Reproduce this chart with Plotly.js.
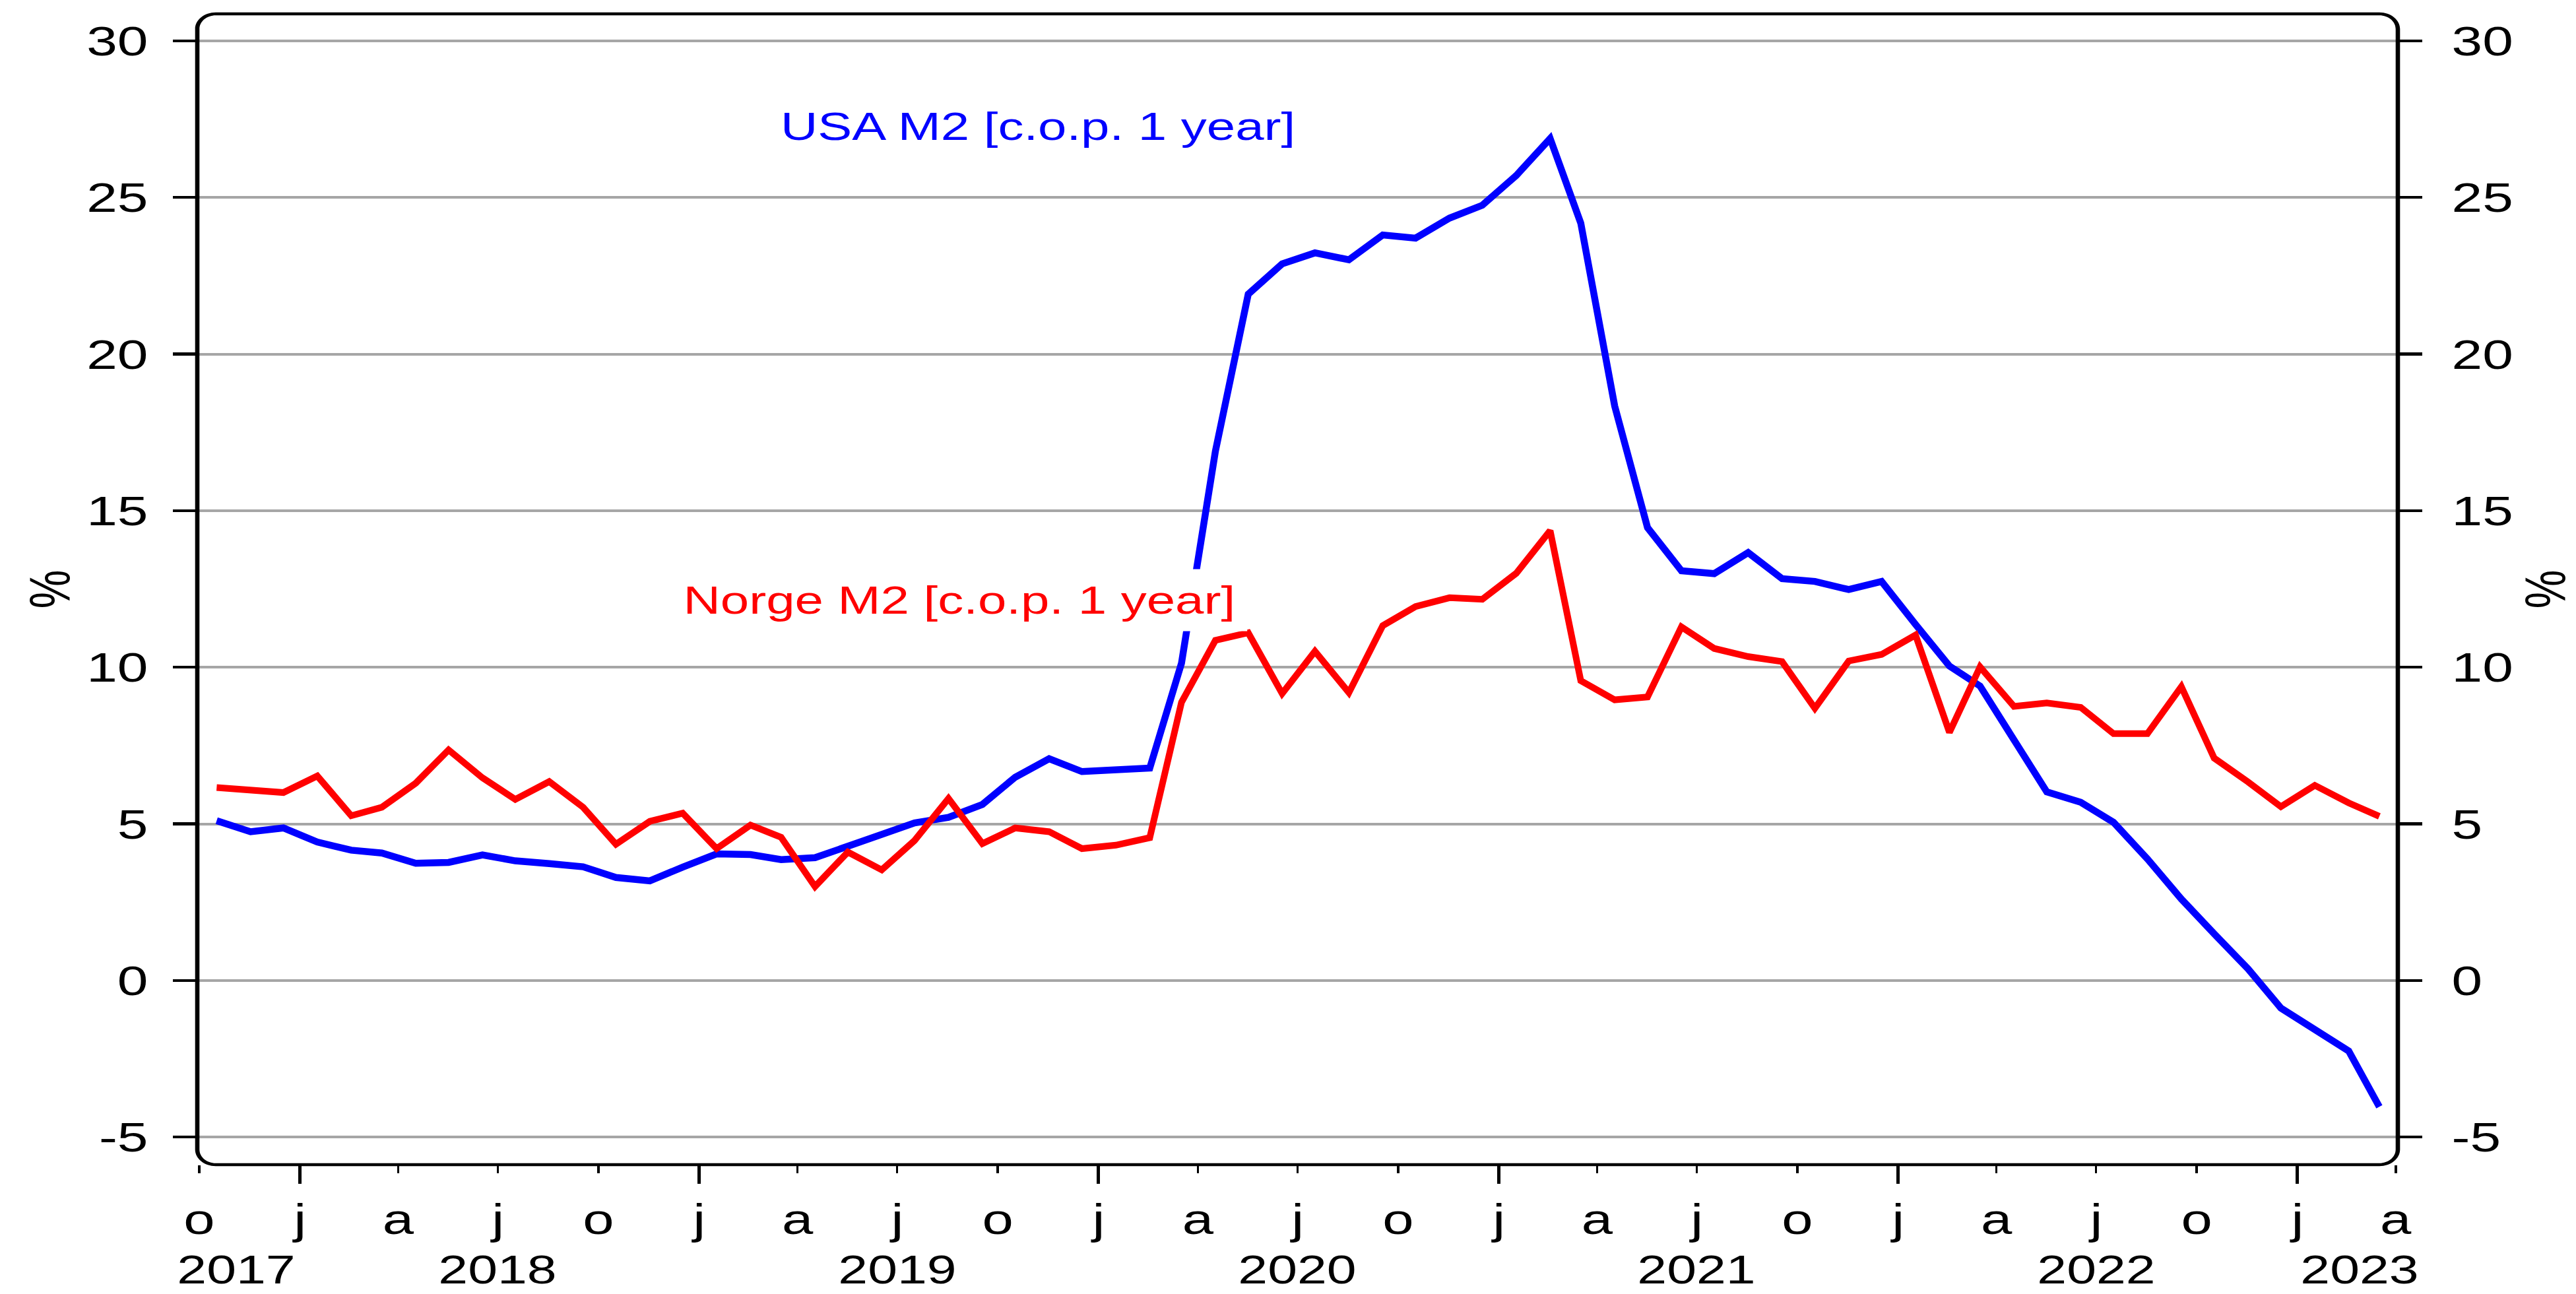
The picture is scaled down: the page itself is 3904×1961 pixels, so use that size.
<!DOCTYPE html>
<html>
<head>
<meta charset="utf-8">
<script src="https://cdn.plot.ly/plotly-3.0.1.min.js"></script>
<style>
html,body{margin:0;padding:0;background:#ffffff;}
#chart{width:3904px;height:1961px;}
</style>
</head>
<body>
<div id="chart"></div>
<script>
// ---------------- DATA ----------------
const months = [
  '2017-10','2017-11','2017-12',
  '2018-01','2018-02','2018-03','2018-04','2018-05','2018-06','2018-07','2018-08','2018-09','2018-10','2018-11','2018-12',
  '2019-01','2019-02','2019-03','2019-04','2019-05','2019-06','2019-07','2019-08','2019-09','2019-10','2019-11','2019-12',
  '2020-01','2020-02','2020-03','2020-04','2020-05','2020-06','2020-07','2020-08','2020-09','2020-10','2020-11','2020-12',
  '2021-01','2021-02','2021-03','2021-04','2021-05','2021-06','2021-07','2021-08','2021-09','2021-10','2021-11','2021-12',
  '2022-01','2022-02','2022-03','2022-04','2022-05','2022-06','2022-07','2022-08','2022-09','2022-10','2022-11','2022-12',
  '2023-01','2023-02','2023-03'
];

const usaM2 = [
  5.10, 4.75, 4.87,
  4.42, 4.16, 4.07, 3.74, 3.77, 4.01, 3.82, 3.73, 3.63, 3.29, 3.18, 3.62,
  4.04, 4.02, 3.86, 3.92, 4.28, 4.71, 5.03, 5.21, 5.62, 6.49, 7.08, 6.67,
  6.70, 6.78, 10.13, 16.90, 21.91, 22.88, 23.23, 23.01, 23.80, 23.70, 24.34, 24.75,
  25.70, 26.88, 24.18, 18.34, 14.46, 13.08, 12.99, 13.66, 12.83, 12.74, 12.48, 12.74,
  11.37, 10.04, 9.40, 7.68, 6.02, 5.69, 5.05, 3.88, 2.60, 1.49, 0.37, -0.88,
  -1.59, -2.25, -4.03
];

const norgeM2 = [
  6.16, 6.09, 6.00,
  6.53, 5.26, 5.53, 6.30, 7.36, 6.47, 5.78, 6.35, 5.53, 4.35, 5.08, 5.34,
  4.21, 4.96, 4.57, 3.00, 4.10, 3.53, 4.47, 5.81, 4.37, 4.87, 4.75, 4.21,
  4.32, 4.56, 8.88, 10.86, 11.10, 9.16, 10.51, 9.19, 11.33, 11.94, 12.22, 12.17,
  13.00, 14.36, 9.57, 8.96, 9.05, 11.29, 10.60, 10.34, 10.18, 8.69, 10.20, 10.41,
  11.03, 7.92, 10.01, 8.75, 8.86, 8.72, 7.88, 7.88, 9.38, 7.10, 6.34, 5.55,
  6.23, 5.67, 5.24
];

const seriesNames = ['USA M2 [c.o.p. 1 year]', 'Norge M2 [c.o.p. 1 year]'];

const quarterTickDates = [
  '2017-10-01',
  '2018-01-01','2018-04-01','2018-07-01','2018-10-01',
  '2019-01-01','2019-04-01','2019-07-01','2019-10-01',
  '2020-01-01','2020-04-01','2020-07-01','2020-10-01',
  '2021-01-01','2021-04-01','2021-07-01','2021-10-01',
  '2022-01-01','2022-04-01','2022-07-01','2022-10-01',
  '2023-01-01','2023-04-01'
];
const quarterTickLabels = [
  'o',
  'j','a','j','o',
  'j','a','j','o',
  'j','a','j','o',
  'j','a','j','o',
  'j','a','j','o',
  'j','a'
];
const yearTickDates = ['2018-01-01','2019-01-01','2020-01-01','2021-01-01','2022-01-01','2023-01-01'];
const yearLabels = ['2017','2018','2019','2020','2021','2022','2023'];
const yearLabelDates = ['2017-11-04','2018-07-01','2019-07-01','2020-07-01','2021-07-01','2022-07-01','2023-02-27'];

const yTickVals = [-5, 0, 5, 10, 15, 20, 25, 30];
const yTickLabels = ['-5', '0', '5', '10', '15', '20', '25', '30'];

// ---------------- LAYOUT ----------------
const W = 3904, H = 1961;
const M = {l: 299, r: 270, t: 21, b: 196};
const pw = W - M.l - M.r;
const ph = H - M.t - M.b;
const FONT = '"Liberation Sans", Arial, Helvetica, sans-serif';
const xRange = ['2017-09-29 07:00', '2023-04-02 22:00'];
const yRange = [-5.88, 30.86];

const xDates = months.map(m => m + '-17');

function framePath() {
  const hx = 3.3, hy = 2.25, rx = 28, ry = 23, K = 0.5523;
  const P = (x, y) => (x / pw).toFixed(6) + ',' + (1 - y / ph).toFixed(6);
  function rr(x0, y0, x1, y1, rx, ry) {
    return 'M' + P(x0 + rx, y0) + ' L' + P(x1 - rx, y0) +
      ' C' + P(x1 - rx + K * rx, y0) + ' ' + P(x1, y0 + ry - K * ry) + ' ' + P(x1, y0 + ry) +
      ' L' + P(x1, y1 - ry) +
      ' C' + P(x1, y1 - ry + K * ry) + ' ' + P(x1 - rx + K * rx, y1) + ' ' + P(x1 - rx, y1) +
      ' L' + P(x0 + rx, y1) +
      ' C' + P(x0 + rx - K * rx, y1) + ' ' + P(x0, y1 - ry + K * ry) + ' ' + P(x0, y1 - ry) +
      ' L' + P(x0, y0 + ry) +
      ' C' + P(x0, y0 + ry - K * ry) + ' ' + P(x0 + rx - K * rx, y0) + ' ' + P(x0 + rx, y0) + ' Z';
  }
  return rr(-hx, -hy, pw + hx, ph + hy, rx + hx, ry + hy) + ' ' +
         rr(hx, hy, pw - hx, ph - hy, rx - hx, ry - hy);
}

const traces = [
  {
    x: xDates, y: usaM2, name: seriesNames[0], type: 'scatter', mode: 'lines',
    line: {color: '#0000ff', width: 10.5}, hoverinfo: 'skip', showlegend: false
  },
  {
    x: xDates, y: norgeM2, name: seriesNames[1], type: 'scatter', mode: 'lines',
    line: {color: '#ff0000', width: 10}, hoverinfo: 'skip', showlegend: false
  },
  {
    x: [], y: [], xaxis: 'x2', yaxis: 'y2', type: 'scatter', mode: 'lines',
    hoverinfo: 'skip', showlegend: false
  }
];

const yAxisCommon = {
  range: yRange, tickmode: 'array', tickvals: yTickVals, ticktext: yTickLabels,
  ticks: 'outside', ticklen: 36, tickwidth: 4.5, tickcolor: '#000000',
  showline: false, zeroline: false,
  tickfont: {family: FONT, size: 63, color: '#000000'}
};

const annotations = [
  {
    text: seriesNames[0], xref: 'paper', yref: 'paper', x: 0.3820, y: 0.9025,
    xanchor: 'center', yanchor: 'middle', showarrow: false,
    font: {family: FONT, size: 60, color: '#0000ff'}
  },
  {
    text: seriesNames[1], xref: 'paper', yref: 'paper', x: 0.3463, y: 0.4905,
    xanchor: 'center', yanchor: 'middle', showarrow: false,
    bgcolor: '#ffffff', borderpad: 13,
    font: {family: FONT, size: 60, color: '#ff0000'}
  }
];
yearLabels.forEach((lab, i) => {
  annotations.push({
    text: lab, xref: 'x', yref: 'paper', x: yearLabelDates[i], y: -0.091,
    xanchor: 'center', yanchor: 'middle', showarrow: false,
    font: {family: FONT, size: 62, color: '#000000'}
  });
});

const layout = {
  width: W, height: H,
  margin: M,
  paper_bgcolor: '#ffffff', plot_bgcolor: '#ffffff',
  showlegend: false,
  font: {family: FONT, color: '#000000'},
  xaxis: {
    type: 'date', range: xRange, tickmode: 'array',
    tickvals: quarterTickDates, ticktext: quarterTickLabels,
    ticks: 'outside', ticklen: 12, tickwidth: 3.5, tickcolor: '#000000',
    showgrid: false, showline: false, zeroline: false,
    tickfont: {family: FONT, size: 64, color: '#000000'},
    ticklabelstandoff: 15
  },
  xaxis2: {
    type: 'date', range: xRange, overlaying: 'x', anchor: 'y', side: 'bottom',
    tickmode: 'array', tickvals: yearTickDates,
    ticks: 'outside', ticklen: 28, tickwidth: 5.5, tickcolor: '#000000',
    showticklabels: false, showgrid: false, showline: false, zeroline: false
  },
  yaxis: Object.assign({}, yAxisCommon, {
    side: 'left', showgrid: true, gridcolor: '#a6a6a6', gridwidth: 4,
    ticklabelstandoff: 25,
    title: {text: '%', font: {family: FONT, size: 66, color: '#000000'}, standoff: 34}
  }),
  yaxis2: Object.assign({}, yAxisCommon, {
    side: 'right', overlaying: 'y', anchor: 'x', showgrid: false,
    ticklabelstandoff: 32,
    title: {text: '%', font: {family: FONT, size: 66, color: '#000000'}, standoff: 48}
  }),
  shapes: [
    {
      type: 'path', xref: 'paper', yref: 'paper', layer: 'above',
      path: framePath(), fillcolor: '#000000', fillrule: 'evenodd',
      line: {width: 0}
    }
  ],
  annotations: annotations
};

// horizontal stretch of text, so glyph proportions follow the reference
function stretchText(gd) {
  function apply(el, axScreen, s) {
    const parent = el.parentNode;
    const ctm = parent.getScreenCTM();
    const axP = (axScreen - ctm.e) / ctm.a;
    const old = el.getAttribute('transform') || '';
    el.setAttribute('transform',
      'translate(' + axP + ',0) scale(' + s + ',1) translate(' + (-axP) + ',0) ' + old);
  }
  const S_TICK = 1.33, S_ANN = 1.3;
  gd.querySelectorAll('.xtick text, .ytick text, .y2tick text').forEach(el => {
    const r = el.getBoundingClientRect();
    const a = el.getAttribute('text-anchor') || 'middle';
    const ax = a === 'start' ? r.left : (a === 'end' ? r.right : (r.left + r.right) / 2);
    apply(el, ax, S_TICK);
  });
  gd.querySelectorAll('text.ytitle, text.y2title').forEach(el => {
    const r = el.getBoundingClientRect();
    apply(el, (r.left + r.right) / 2, S_TICK);
  });
  gd.querySelectorAll('g.annotation').forEach(g => {
    const t = g.querySelector('text.annotation-text');
    if (!t) return;
    const r = t.getBoundingClientRect();
    const cx = (r.left + r.right) / 2;
    apply(t, cx, S_ANN);
    const bg = g.querySelector('rect.bg');
    if (bg) apply(bg, cx, S_ANN);
  });
}

Plotly.newPlot('chart', traces, layout, {displayModeBar: false, staticPlot: true})
  .then(gd => { try { stretchText(gd); } catch (e) { console.error(e); } });
</script>
</body>
</html>
